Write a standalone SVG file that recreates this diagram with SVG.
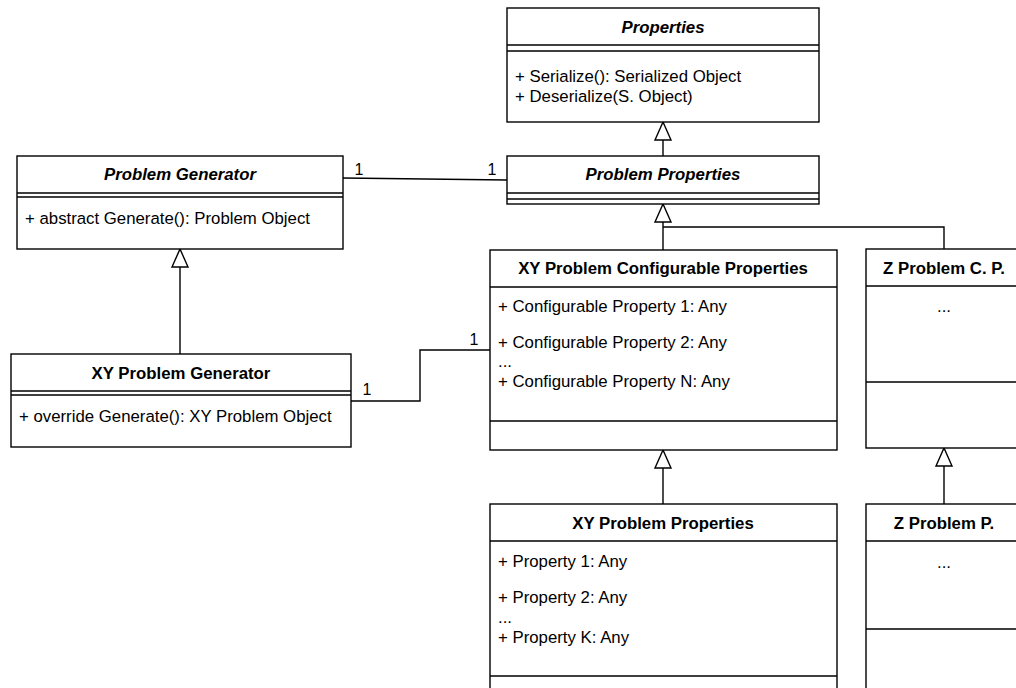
<svg xmlns="http://www.w3.org/2000/svg" width="1016" height="688" viewBox="0 0 1016 688">
<style>
.box{fill:#fff;stroke:#000;stroke-width:1.4}
.sep{fill:none;stroke:#000;stroke-width:1.4}
.con{fill:none;stroke:#000;stroke-width:1.4}
text{font-family:"Liberation Sans",Arial,sans-serif;font-size:16.8px;fill:#000}
.t{font-weight:bold;text-anchor:middle}
.ti{font-weight:bold;font-style:italic;text-anchor:middle}
.c{text-anchor:middle}
.lbl{font-size:16px}
</style>
<defs>
<marker id="gen" viewBox="-2 -2 22 20" refX="18" refY="8" markerWidth="22" markerHeight="20" markerUnits="userSpaceOnUse" orient="auto">
<path d="M0,0 L18,8 L0,16 Z" fill="#fff" stroke="#000" stroke-width="1.4"/>
</marker>
</defs>
<rect width="1016" height="688" fill="#fff"/>
<g id="connectors">
<path class="con" d="M663,156 L663,122" marker-end="url(#gen)"/>
<path class="con" d="M663,250 L663,204" marker-end="url(#gen)"/>
<path class="con" d="M944,249 L944,227 L663,227"/>
<path class="con" d="M180,354 L180,249" marker-end="url(#gen)"/>
<path class="con" d="M663,504 L663,450" marker-end="url(#gen)"/>
<path class="con" d="M944,504 L944,448" marker-end="url(#gen)"/>
<path class="con" d="M343,178 L507,180"/>
<path class="con" d="M351,401 L420,401 L420,350 L490,350"/>
<text class="lbl c" x="359" y="175">1</text>
<text class="lbl c" x="492" y="175">1</text>
<text class="lbl c" x="367" y="395">1</text>
<text class="lbl c" x="474" y="345">1</text>
</g>
<g id="properties">
<rect class="box" x="507" y="8" width="312" height="114"/>
<path class="sep" d="M507,45 H819 M507,51 H819"/>
<text class="ti" x="663" y="33">Properties</text>
<text x="515" y="82">+ Serialize(): Serialized Object</text>
<text x="515" y="102">+ Deserialize(S. Object)</text>
</g>
<g id="problem-properties">
<rect class="box" x="507" y="156" width="312" height="48"/>
<path class="sep" d="M507,193 H819 M507,199 H819"/>
<text class="ti" x="663" y="180">Problem Properties</text>
</g>
<g id="problem-generator">
<rect class="box" x="17" y="156" width="326" height="93"/>
<path class="sep" d="M17,193 H343 M17,197 H343"/>
<text class="ti" x="180" y="180">Problem Generator</text>
<text x="25" y="224">+ abstract Generate(): Problem Object</text>
</g>
<g id="xy-problem-generator">
<rect class="box" x="11" y="354" width="340" height="93"/>
<path class="sep" d="M11,391 H351 M11,395 H351"/>
<text class="t" x="181" y="379">XY Problem Generator</text>
<text x="19" y="422">+ override Generate(): XY Problem Object</text>
</g>
<g id="xy-configurable-properties">
<rect class="box" x="490" y="250" width="347" height="200"/>
<path class="sep" d="M490,287 H837 M490,421 H837"/>
<text class="t" x="663" y="274">XY Problem Configurable Properties</text>
<text x="498" y="312">+ Configurable Property 1: Any</text>
<text x="498" y="348">+ Configurable Property 2: Any</text>
<text x="498" y="367">...</text>
<text x="498" y="387">+ Configurable Property N: Any</text>
</g>
<g id="z-configurable-properties">
<rect class="box" x="866" y="249" width="160" height="199"/>
<path class="sep" d="M866,286 H1026 M866,382 H1026"/>
<text class="t" x="944" y="274">Z Problem C. P.</text>
<text class="c" x="944" y="312">...</text>
</g>
<g id="xy-problem-properties">
<rect class="box" x="490" y="504" width="347" height="220"/>
<path class="sep" d="M490,541 H837 M490,676 H837"/>
<text class="t" x="663" y="529">XY Problem Properties</text>
<text x="498" y="567">+ Property 1: Any</text>
<text x="498" y="603">+ Property 2: Any</text>
<text x="498" y="623">...</text>
<text x="498" y="643">+ Property K: Any</text>
</g>
<g id="z-problem-properties">
<rect class="box" x="866" y="504" width="160" height="220"/>
<path class="sep" d="M866,541 H1026 M866,629 H1026"/>
<text class="t" x="944" y="529">Z Problem P.</text>
<text class="c" x="944" y="568">...</text>
</g>
</svg>
